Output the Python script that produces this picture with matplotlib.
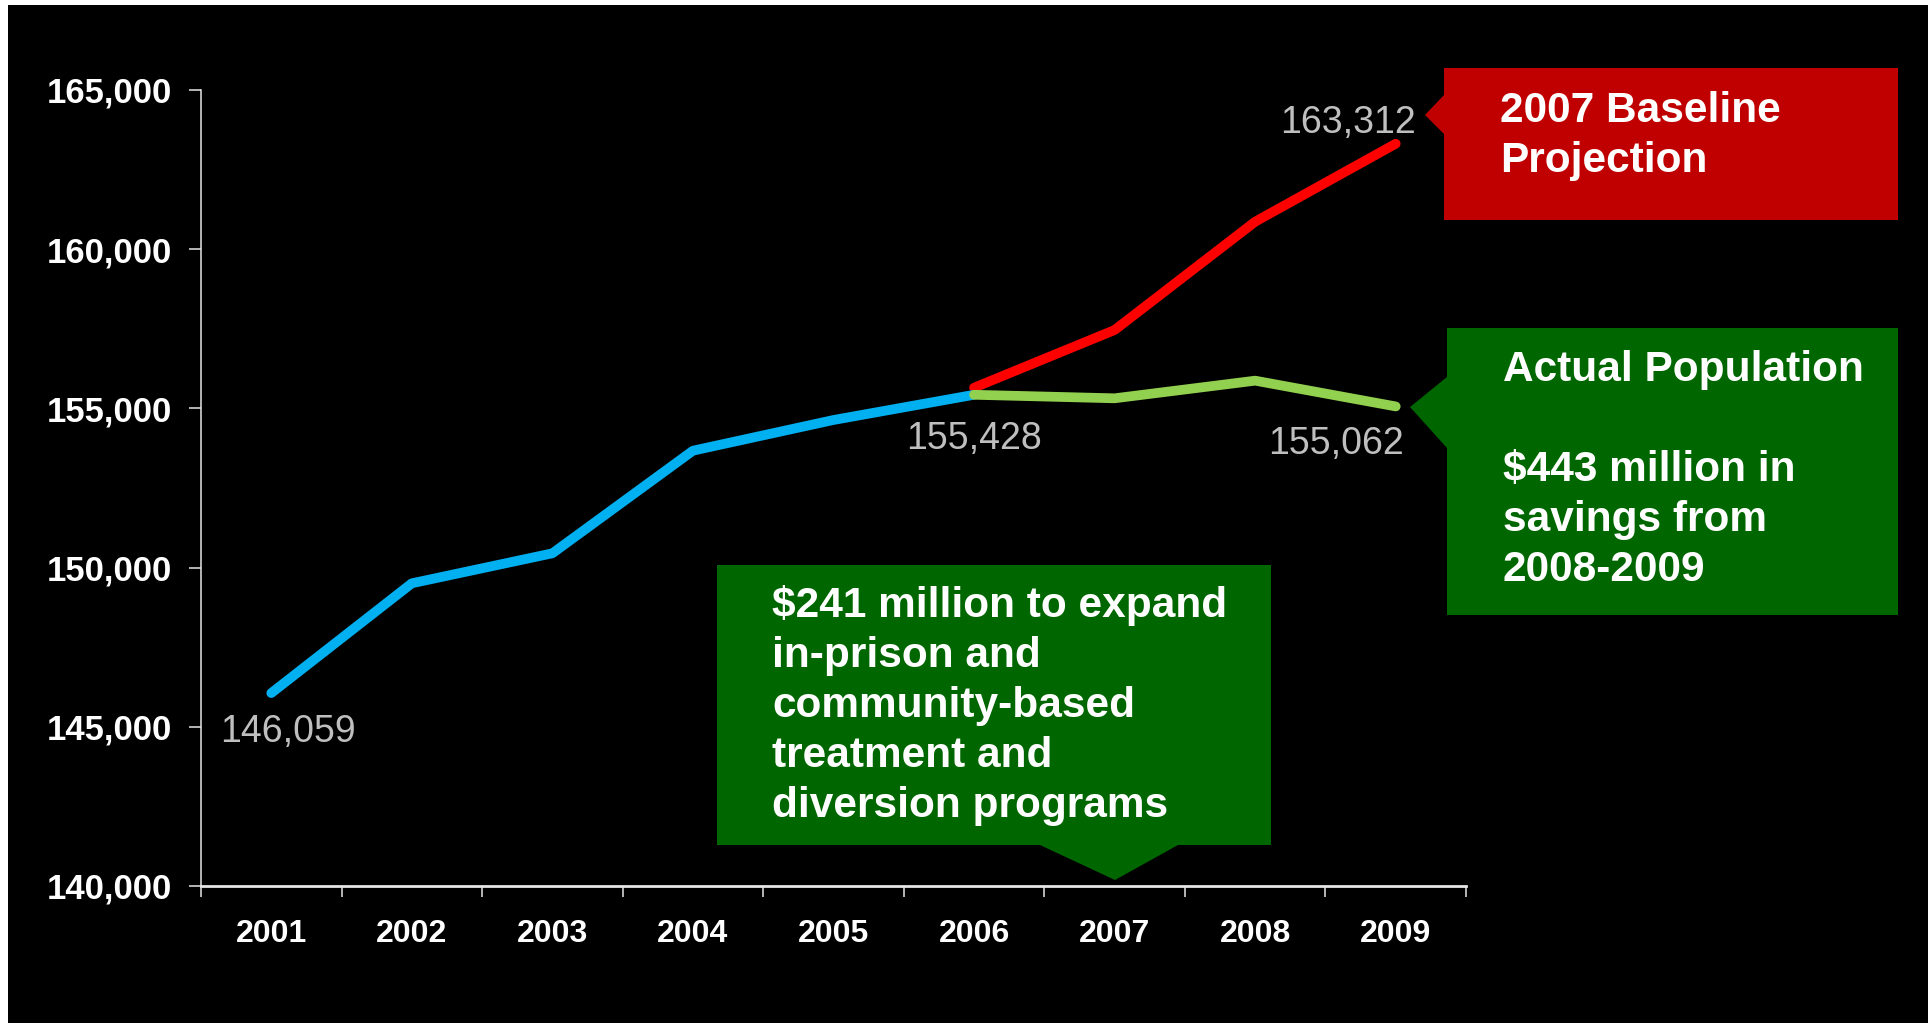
import matplotlib
matplotlib.use("Agg")
import matplotlib.pyplot as plt
from matplotlib.patches import Polygon, Rectangle

# ---------------- data ----------------
years = ['2001', '2002', '2003', '2004', '2005', '2006', '2007', '2008', '2009']
hist_years = ['2001', '2002', '2003', '2004', '2005', '2006']
hist_values = [146059, 149507, 150449, 153672, 154636, 155428]
proj_years = ['2006', '2007', '2008', '2009']
proj_values = [155650, 157462, 160864, 163312]
actual_years = ['2006', '2007', '2008', '2009']
actual_values = [155428, 155317, 155871, 155062]
y_ticks = [140000, 145000, 150000, 155000, 160000, 165000]
y_ticklabels = ['140,000', '145,000', '150,000', '155,000', '160,000', '165,000']

# labels: (text, year, value, dx_px, dy_px, ha)
point_labels = [
    ('146,059', '2001', 146059, -51, -49, 'left'),
    ('155,428', '2006', 155428, -68, -54, 'left'),
    ('155,062', '2009', 155062, 8, -48, 'right'),
    ('163,312', '2009', 163312, 20, 11, 'right'),
]

red_box_lines = ['2007 Baseline', 'Projection']
green_box_lines = ['Actual Population', '', '$443 million in', 'savings from', '2008-2009']
program_box_lines = ['$241 million to expand', 'in-prison and', 'community-based',
                     'treatment and', 'diversion programs']

# ---------------- figure ----------------
W, H = 1933, 1023
fig = plt.figure(figsize=(W / 100, H / 100), dpi=100)
fig.patch.set_facecolor('white')
FONT = ['Liberation Sans', 'DejaVu Sans']
plt.rcParams['font.family'] = FONT


def fx(x):
    return x / W


def fy(y):
    return 1 - y / H


# black slide background
fig.add_artist(Rectangle((fx(8), 0), fx(1928) - fx(8), fy(5), transform=fig.transFigure,
                         facecolor='black', edgecolor='none', zorder=-10))

ax = fig.add_axes([fx(201), fy(886), fx(1466) - fx(201), fy(90) - fy(886)])
ax.set_facecolor('none')

idx = {y: i for i, y in enumerate(years)}
LW = 7
ax.plot([idx[y] for y in proj_years], proj_values, color='#FF0000', lw=LW,
        solid_capstyle='round', solid_joinstyle='round', zorder=3)
ax.plot([idx[y] for y in hist_years], hist_values, color='#00B0F0', lw=LW,
        solid_capstyle='round', solid_joinstyle='round', zorder=4)
ax.plot([idx[y] for y in actual_years], actual_values, color='#92D050', lw=LW,
        solid_capstyle='round', solid_joinstyle='round', zorder=5)

ax.set_xlim(-0.5, len(years) - 0.5)
ax.set_ylim(140000, 165000)

# x axis: tick marks at boundaries, labels at centres
ax.set_xticks([i - 0.5 for i in range(len(years) + 1)])
ax.set_xticklabels([])
ax.set_xticks(range(len(years)), minor=True)
ax.set_xticklabels(years, minor=True)
ax.tick_params(axis='x', which='major', direction='out', length=8, width=1.1, color='#E6E6E6')
ax.tick_params(axis='x', which='minor', length=0, pad=24, labelsize=23, labelcolor='white')
for lab in ax.get_xticklabels(minor=True):
    lab.set_fontweight('bold')

ax.set_yticks(y_ticks)
ax.set_yticklabels(y_ticklabels)
ax.tick_params(axis='y', direction='out', length=8.6, width=1.1, color='#E6E6E6',
               pad=12.5, labelsize=25, labelcolor='white')
for lab in ax.get_yticklabels():
    lab.set_fontweight('bold')

for s in ['top', 'right']:
    ax.spines[s].set_visible(False)
ax.spines['left'].set_color('#E6E6E6')
ax.spines['left'].set_linewidth(1.1)
ax.spines['bottom'].set_color('#E6E6E6')
ax.spines['bottom'].set_linewidth(2.0)

for text, yr, val, dx, dy, ha in point_labels:
    ax.annotate(text, xy=(idx[yr], val), xytext=(dx, dy), textcoords='offset pixels',
                ha=ha, va='baseline', fontsize=27, color='#BFBFBF', zorder=6,
                annotation_clip=False)


# ---------------- callouts ----------------
def callout(points, color):
    fig.add_artist(Polygon([(fx(x), fy(y)) for x, y in points], closed=True,
                           transform=fig.transFigure, facecolor=color,
                           edgecolor='none', zorder=2))


def box_text(lines, x, y0, step=50):
    for k, line in enumerate(lines):
        if line:
            fig.text(fx(x), fy(y0 + k * step), line, ha='left', va='baseline',
                     fontsize=30.5, fontweight='bold', color='white', zorder=3)


callout([(1444, 68), (1898, 68), (1898, 220), (1444, 220), (1444, 134),
         (1425, 115), (1444, 95)], '#C00000')
box_text(red_box_lines, 1500, 122)

callout([(1447, 328), (1898, 328), (1898, 615), (1447, 615), (1447, 448),
         (1410, 407), (1447, 377)], '#006600')
box_text(green_box_lines, 1503, 381)

callout([(717, 565), (1271, 565), (1271, 845), (1178, 845), (1115, 880),
         (1040, 845), (717, 845)], '#006600')
box_text(program_box_lines, 772, 617)

fig.savefig('out.png', dpi=100, facecolor=fig.get_facecolor())
